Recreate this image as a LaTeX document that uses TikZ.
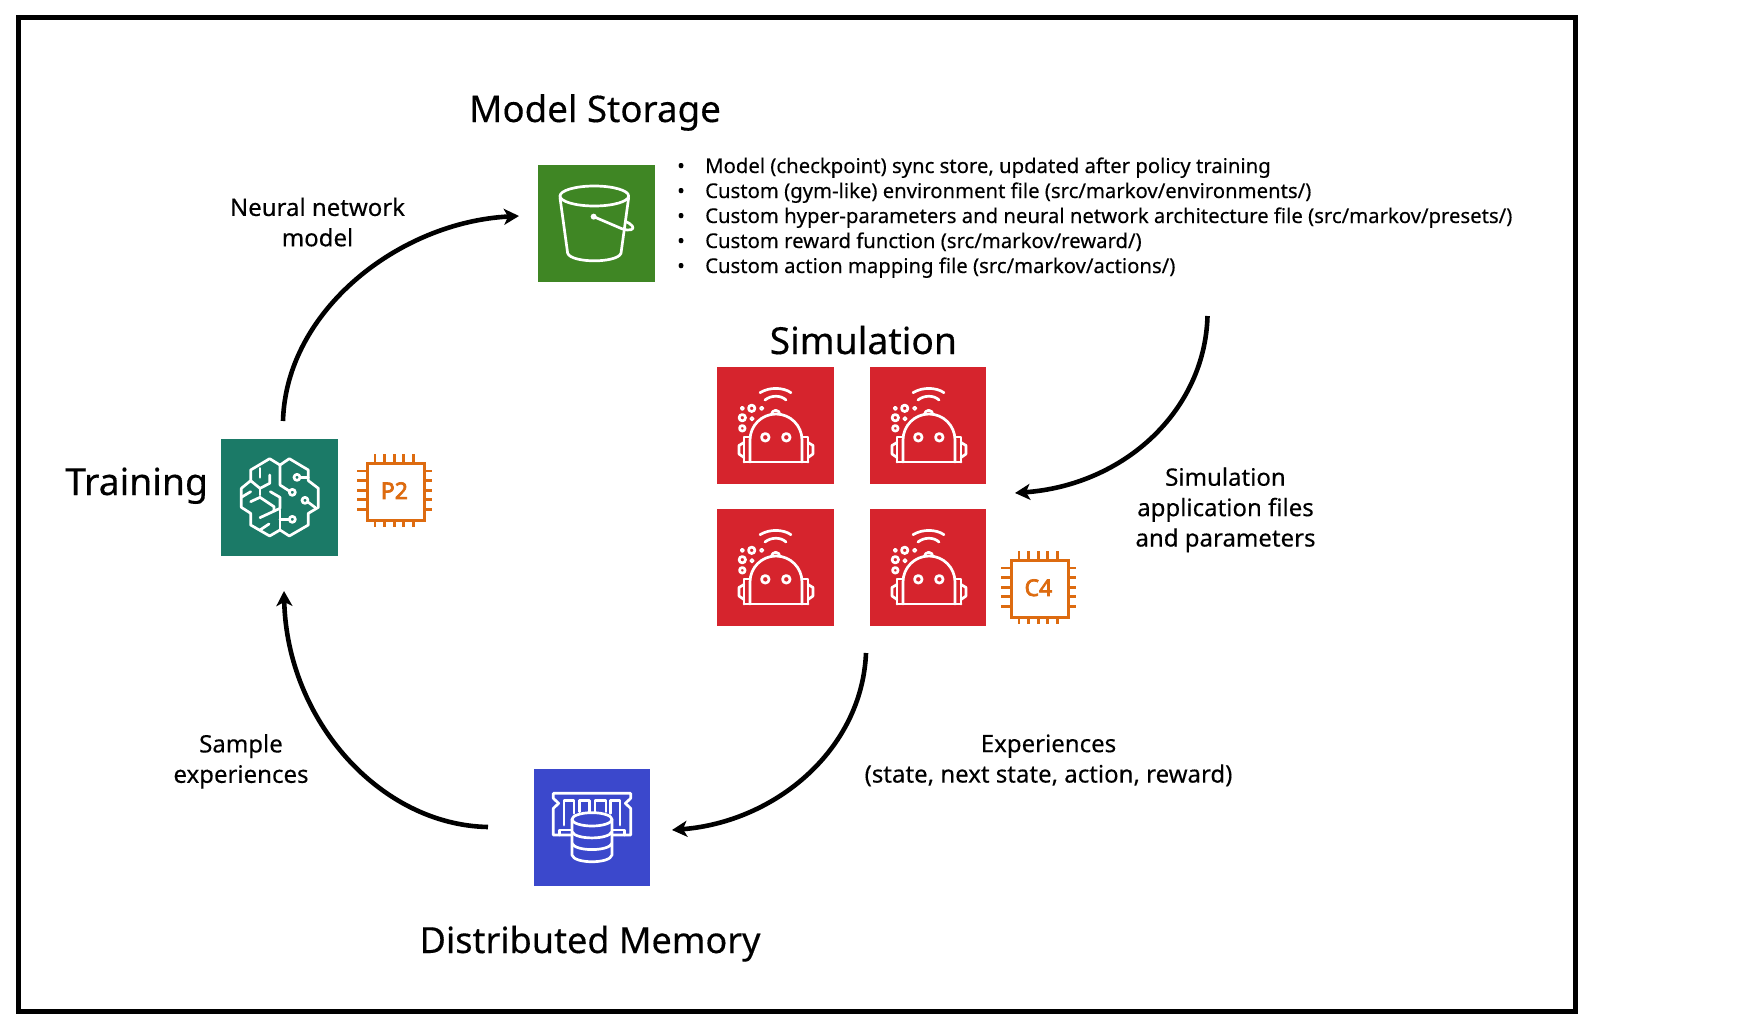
\documentclass[tikz,border=0pt]{standalone}
\usepackage{fontspec}
\setmainfont[FakeBold=0.3]{Noto Sans}
\newfontfamily\chipfont[FakeBold=3.2]{Noto Sans}
\usetikzlibrary{arrows.meta}
\definecolor{sgreen}{HTML}{3F8624}
\definecolor{steal}{HTML}{1B7A67}
\definecolor{sblue}{HTML}{3B48CC}
\definecolor{sred}{HTML}{D6242D}
\definecolor{sorange}{HTML}{DD6B10}
\newcommand{\fs}[1]{\fontsize{#1}{#1}\selectfont}
\tikzset{
  x=1pt,y=-1pt,
  iconbox/.style={fill=#1,draw=none,minimum width=116.7pt,minimum height=117pt,inner sep=0pt,anchor=north west},
  glyph/.style={draw=white,line width=2.7pt,line join=round,line cap=round},
  heading/.style={anchor=base west,inner sep=0pt,font=\fs{37}},
  note/.style={align=center,inner sep=0pt,font=\fs{24},text depth=0pt},
  bullet/.style={anchor=base west,inner sep=0pt,font=\fs{20.3}},
  flow/.style={line width=4.6pt,-{Stealth[length=15pt,width=16pt,inset=4pt]}},
  chippart/.style={draw=sorange,line width=2.8pt},
}
\newcommand{\robot}[2]{%
\begin{scope}[shift={(#1,#2)}]
 \draw[glyph] (43,25.7) .. controls (52,20) and (66,20) .. (74,25.7);
 \draw[glyph] (48,33) .. controls (54,28) and (64,28) .. (69,33);
 \draw[glyph] (54.5,47.5) arc (180:360:4.2);
 \draw[glyph] (33,95) -- (33,73) arc (180:360:26) -- (85,95);
 \draw[glyph] (27,95) -- (91,95);
 \draw[glyph] (33,70) -- (27,70) -- (27,95);
 \draw[glyph] (85,70) -- (91,70) -- (91,95);
 \draw[glyph] (27,75.5) -- (22,78.5) -- (22,87) -- (27,90.5);
 \draw[glyph] (91,75.5) -- (96,78.5) -- (96,87) -- (91,90.5);
 \draw[glyph] (48.3,70.3) circle[radius=3.8];
 \draw[glyph] (69.3,70.3) circle[radius=3.8];
 \draw[glyph] (34.7,41.3) circle[radius=3.2];
 \draw[glyph] (25.3,50.7) circle[radius=3.2];
 \draw[glyph] (25.3,61.3) circle[radius=2.8];
 \draw[glyph,line width=1.7pt] (25.3,41.3) circle[radius=1.7];
 \draw[glyph,line width=1.7pt] (44.7,41.3) circle[radius=1.7];
 \draw[glyph,line width=1.7pt] (35,51.7) circle[radius=1.7];
\end{scope}}
\newcommand{\chip}[3]{% left, top of the inner square, label
\begin{scope}[shift={(#1,#2)}]
 \node[chippart,fill=white,minimum size=57pt,inner sep=0pt,anchor=north west,text=sorange,font=\chipfont\fs{23}] at (0,0) {\hspace*{-3pt}\raisebox{2.5pt}{#3}};
 \foreach \p in {9,18.6,28.2,37.8,47.4}{
   \draw[chippart] (\p,0) -- (\p,-8);
   \draw[chippart] (\p,57) -- (\p,65);
   \draw[chippart] (0,\p) -- (-9,\p);
   \draw[chippart] (57,\p) -- (66,\p);
 }
\end{scope}}
\begin{document}
\begin{tikzpicture}
\useasboundingbox (0,0) rectangle (1749,1031);
\draw[line width=5pt,black] (18.5,17.5) rectangle (1575.5,1011.5);

% boxes
\node[iconbox=sgreen] (storage) at (538,165) {};
\node[iconbox=steal] (training) at (221,439) {};
\node[iconbox=sblue,minimum width=116pt] (memory) at (534,769) {};
\node[iconbox=sred] (simA) at (717,367) {};
\node[iconbox=sred,minimum width=116pt] (simB) at (870,367) {};
\node[iconbox=sred] (simC) at (717,509) {};
\node[iconbox=sred,minimum width=116pt] (simD) at (870,509) {};

% bucket
\begin{scope}[shift={(538,165)},x=.3333pt,y=-.3333pt,shift={(-54,-45)}]
 \draw[glyph] (223,138) ellipse[x radius=103,y radius=30];
 \draw[glyph] (120,143) -- (143,310) .. controls (155,340) and (291,340) .. (303,310) -- (326,143);
 \fill[white] (221,200) circle[radius=9];
 \draw[glyph] (221,200) -- (305,236) .. controls (330,245) and (345,238) .. (337,228) .. controls (332,222) and (325,218) .. (316,214);
\end{scope}

% brain
\begin{scope}[shift={(221,439)},x=.3333pt,y=-.3333pt,shift={(-63,-57)}]
 \draw[glyph] (209,116) -- (240,135) -- (268,116) -- (325,150) -- (325,182) -- (355,205) -- (355,262) -- (325,280) -- (325,315) -- (268,348) -- (240,330) -- (209,348) -- (152,315) -- (152,280) -- (124,262) -- (124,205) -- (152,182) -- (152,150) -- cycle;
 \draw[glyph] (240,135) -- (240,195) -- (268,213);
 \draw[glyph] (240,270) -- (240,330);
 \draw[glyph] (301,172) -- (325,172);
 \draw[glyph] (325,247) -- (345,262);
 \draw[glyph] (267,298) -- (240,298);
 \draw[glyph] (291,172) circle[radius=9];
 \draw[glyph] (277,217) circle[radius=9];
 \draw[glyph] (315,241) circle[radius=9];
 \draw[glyph] (277,298) circle[radius=9];
 \draw[glyph] (180,145) -- (180,172);
 \draw[glyph] (209,165) -- (209,190) -- (180,205) -- (152,182);
 \draw[glyph] (180,205) -- (180,225);
 \draw[glyph] (124,232) -- (152,215);
 \draw[glyph] (152,245) -- (180,232) -- (222,260) -- (222,272);
 \draw[glyph] (211,215) -- (240,232) -- (240,265) -- (180,293);
 \draw[glyph] (180,330) -- (207,312);
\end{scope}

% memory
\begin{scope}[shift={(534,769)},x=.3333pt,y=-.3333pt,shift={(-102,-57)}]
 \draw[glyph] (215,255) -- (160,255) -- (160,175) -- (176,160) -- (160,145) -- (160,130) -- (392,130) -- (392,145) -- (376,160) -- (392,175) -- (392,255) -- (337,255);
 \draw[glyph] (192,225) -- (192,152) -- (222,152) -- (222,190);
 \draw[glyph] (238,185) -- (238,152) -- (268,152) -- (268,185);
 \draw[glyph] (285,185) -- (285,152) -- (318,152) -- (318,185);
 \draw[glyph] (332,190) -- (332,152) -- (360,152) -- (360,225);
 \draw[glyph] (178,255) -- (178,240) -- (215,240);
 \draw[glyph] (374,255) -- (374,240) -- (337,240);
 \draw[glyph,fill=sblue] (216,208) -- (216,315) .. controls (222,342) and (330,342) .. (336,315) -- (336,208);
 \draw[glyph,fill=sblue] (276,208) ellipse[x radius=60,y radius=20];
 \draw[glyph] (216,245) .. controls (225,270) and (327,270) .. (336,245);
 \draw[glyph] (216,280) .. controls (225,305) and (327,305) .. (336,280);
\end{scope}

% robots
\robot{717}{367}
\robot{870}{367}
\robot{717}{509}
\robot{870}{509}

% chips
\chip{366}{462}{P2}
\chip{1010}{559}{C4}

% headings
\node[heading,font=\fs{36.7}] (hstorage) at (469,122) {Model Storage};
\node[heading,font=\fs{37.3}] (htraining) at (65,495) {Training};
\node[heading,font=\fs{37.3}] (hsim) at (769.5,354) {Simulation};
\node[heading,font=\fs{36}] (hmemory) at (419.5,953) {Distributed Memory};

% labels
\node[note] (lnn) at (317.5,222) {Neural network\\[6.4pt]model};
\node[note] (lsample) at (241,758.5) {Sample\\[6.4pt]experiences};
\node[note] (lexp) at (1048.5,758.5) {Experiences\\[6.4pt](state, next state, action, reward)};
\node[note] (lapp) at (1225.5,507) {Simulation\\[6.4pt]application files\\[6.4pt]and parameters};

% bullets
\foreach \yy/\tt in {
 173/{Model (checkpoint) sync store, updated after policy training},
 198/{Custom (gym-like) environment file (src/markov/environments/)},
 223/{Custom hyper-parameters and neural network architecture file (src/markov/presets/)},
 248/{Custom reward function (src/markov/reward/)},
 273/{Custom action mapping file (src/markov/actions/)}}{
 \node[bullet] at (677,\yy) {\makebox[28pt][l]{•}\tt};
}

% connectors
\coordinate (a1) at (283,421);
\coordinate (a2) at (519,216);
\coordinate (b1) at (1207.5,316);
\coordinate (b2) at (1015,493);
\coordinate (c1) at (866,653);
\coordinate (c2) at (672,830);
\coordinate (d1) at (488,827);
\coordinate (d2) at (284,591);
\draw[flow] (a1) .. controls (286,310) and (400,222) .. (a2);
\draw[flow] (b1) .. controls (1205,410) and (1125,485) .. (b2);
\draw[flow] (c1) .. controls (862,750) and (775,822) .. (c2);
\draw[flow] (d1) .. controls (380,825) and (287,720) .. (d2);
\end{tikzpicture}
\end{document}
